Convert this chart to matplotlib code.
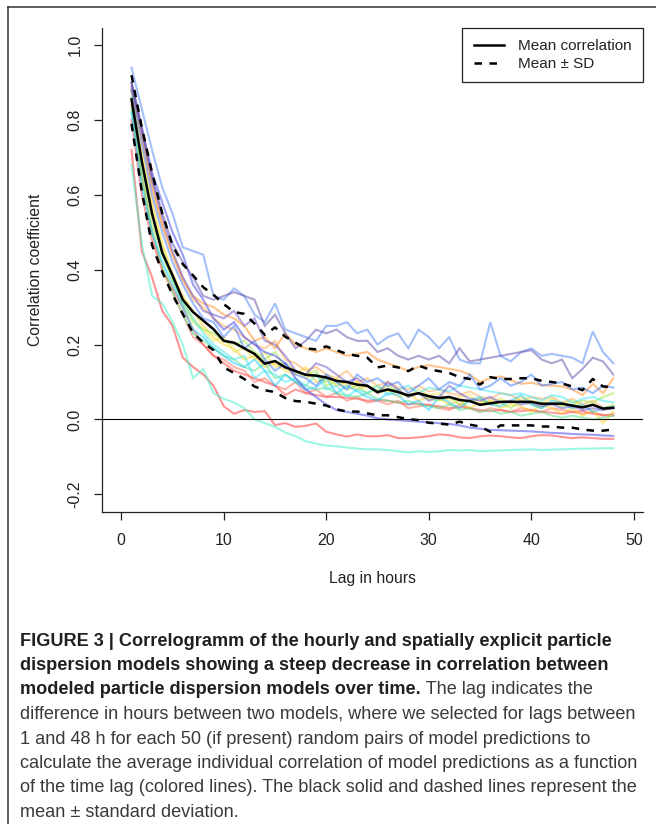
import numpy as np
import matplotlib
matplotlib.use("Agg")
import matplotlib.pyplot as plt
from matplotlib.lines import Line2D

plt.rcParams["font.family"] = ["Liberation Sans", "DejaVu Sans"]
plt.rcParams["axes.unicode_minus"] = False

# ============================================================
# DATA
# ============================================================

lags = list(range(1, 49))

mean_corr = [0.855, 0.69, 0.55, 0.445, 0.385, 0.32, 0.287, 0.264, 0.241, 0.21,
             0.205, 0.19, 0.175, 0.149, 0.156, 0.139, 0.129, 0.119, 0.117, 0.112,
             0.103, 0.10, 0.093, 0.09, 0.073, 0.08, 0.073, 0.064, 0.07, 0.062,
             0.057, 0.06, 0.052, 0.049, 0.039, 0.043, 0.047, 0.047, 0.047, 0.047,
             0.042, 0.042, 0.042, 0.037, 0.032, 0.039, 0.029, 0.031]

mean_plus_sd = [0.92, 0.78, 0.66, 0.55, 0.465, 0.415, 0.385, 0.353, 0.333, 0.308,
                0.287, 0.282, 0.256, 0.226, 0.246, 0.221, 0.205, 0.19, 0.187, 0.195,
                0.185, 0.175, 0.17, 0.165, 0.139, 0.144, 0.139, 0.129, 0.144, 0.134,
                0.129, 0.124, 0.113, 0.108, 0.093, 0.113, 0.108, 0.108, 0.11, 0.11,
                0.103, 0.10, 0.096, 0.088, 0.078, 0.108, 0.088, 0.086]

mean_minus_sd = [0.79, 0.61, 0.466, 0.394, 0.333, 0.282, 0.231, 0.205, 0.185, 0.139,
                 0.124, 0.108, 0.088, 0.078, 0.073, 0.057, 0.049, 0.047, 0.042, 0.037,
                 0.027, 0.021, 0.021, 0.016, 0.011, 0.011, 0.006, 0.001, -0.002, -0.009,
                 -0.011, -0.014, -0.006, -0.014, -0.019, -0.033, -0.016, -0.016, -0.016, -0.016,
                 -0.019, -0.019, -0.022, -0.022, -0.027, -0.03, -0.03, -0.027]

# individual model pairs (colored lines)
blue_top = [0.94, 0.83, 0.72, 0.62, 0.55, 0.46, 0.45, 0.44, 0.33, 0.32,
            0.35, 0.33, 0.28, 0.26, 0.31, 0.24, 0.23, 0.22, 0.21, 0.25,
            0.25, 0.26, 0.23, 0.24, 0.20, 0.22, 0.23, 0.19, 0.24, 0.22,
            0.19, 0.22, 0.16, 0.15, 0.15, 0.26, 0.17, 0.155, 0.18, 0.19,
            0.17, 0.175, 0.17, 0.165, 0.15, 0.235, 0.18, 0.15]
purple_top = [0.90, 0.78, 0.65, 0.55, 0.47, 0.42, 0.38, 0.33, 0.32, 0.33,
              0.34, 0.33, 0.32, 0.25, 0.28, 0.23, 0.19, 0.21, 0.24, 0.23,
              0.24, 0.22, 0.21, 0.21, 0.18, 0.19, 0.17, 0.16, 0.17, 0.16,
              0.17, 0.15, 0.19, 0.155, 0.16, 0.165, 0.17, 0.175, 0.18, 0.185,
              0.16, 0.15, 0.16, 0.11, 0.135, 0.165, 0.155, 0.12]
aqua_low = [0.68, 0.47, 0.33, 0.31, 0.26, 0.20, 0.11, 0.135, 0.07, 0.055,
            0.045, 0.03, 0.0, -0.01, -0.02, -0.035, -0.045, -0.058, -0.065, -0.07,
            -0.072, -0.075, -0.078, -0.08, -0.08, -0.082, -0.085, -0.088, -0.085, -0.087,
            -0.085, -0.082, -0.083, -0.082, -0.085, -0.084, -0.083, -0.082, -0.081, -0.08,
            -0.082, -0.081, -0.08, -0.079, -0.078, -0.078, -0.077, -0.077]
red_low = [0.72, 0.45, 0.38, 0.29, 0.25, 0.165, 0.14, 0.12, 0.09, 0.035,
           0.015, 0.025, 0.02, 0.022, -0.015, -0.01, -0.02, -0.017, -0.011, -0.033,
           -0.04, -0.046, -0.04, -0.045, -0.045, -0.042, -0.05, -0.05, -0.048, -0.045,
           -0.04, -0.042, -0.048, -0.05, -0.045, -0.043, -0.045, -0.048, -0.05, -0.045,
           -0.042, -0.043, -0.047, -0.05, -0.048, -0.05, -0.052, -0.052]
blue_low = [0.90, 0.78, 0.66, 0.58, 0.50, 0.44, 0.36, 0.32, 0.27, 0.24,
            0.26, 0.22, 0.20, 0.18, 0.17, 0.15, 0.11, 0.08, 0.06, 0.04,
            0.025, 0.02, 0.015, 0.01, 0.003, 0.0, -0.002, -0.004, -0.006, -0.008,
            -0.01, -0.012, -0.016, -0.022, -0.025, -0.028, -0.029, -0.03, -0.031, -0.032,
            -0.034, -0.036, -0.037, -0.039, -0.04, -0.041, -0.043, -0.044]
red_mid = [0.80, 0.60, 0.48, 0.40, 0.35, 0.30, 0.24, 0.20, 0.17, 0.15,
           0.13, 0.12, 0.11, 0.10, 0.09, 0.065, 0.08, 0.07, 0.065, 0.06,
           0.06, 0.058, 0.055, 0.05, 0.052, 0.05, 0.045, 0.04, 0.042, 0.038,
           0.035, 0.03, 0.033, 0.03, 0.025, 0.022, 0.025, 0.02, 0.022, 0.025,
           0.02, 0.018, 0.015, 0.02, 0.022, 0.015, 0.012, 0.01]
orange_up = [0.88, 0.76, 0.62, 0.52, 0.44, 0.37, 0.33, 0.31, 0.30, 0.28,
             0.27, 0.25, 0.21, 0.22, 0.19, 0.23, 0.20, 0.19, 0.18, 0.19,
             0.18, 0.17, 0.175, 0.18, 0.16, 0.15, 0.14, 0.13, 0.14, 0.145,
             0.14, 0.135, 0.13, 0.12, 0.10, 0.11, 0.115, 0.105, 0.095, 0.098,
             0.092, 0.09, 0.088, 0.08, 0.065, 0.095, 0.07, 0.11]
cyan_1 = [0.82, 0.62, 0.50, 0.42, 0.36, 0.30, 0.24, 0.22, 0.19, 0.17,
          0.15, 0.14, 0.16, 0.13, 0.09, 0.12, 0.10, 0.08, 0.085, 0.11,
          0.07, 0.09, 0.075, 0.06, 0.05, 0.07, 0.065, 0.04, 0.05, 0.025,
          0.06, 0.045, 0.03, 0.05, 0.06, 0.04, 0.035, 0.05, 0.065, 0.04,
          0.03, 0.05, 0.045, 0.03, 0.04, 0.02, 0.03, 0.035]
cyan_2 = [0.86, 0.68, 0.55, 0.45, 0.38, 0.31, 0.27, 0.23, 0.20, 0.18,
          0.16, 0.17, 0.11, 0.13, 0.12, 0.10, 0.11, 0.09, 0.12, 0.08,
          0.09, 0.06, 0.08, 0.07, 0.09, 0.065, 0.08, 0.09, 0.07, 0.085,
          0.08, 0.075, 0.09, 0.085, 0.08, 0.075, 0.07, 0.065, 0.07, 0.06,
          0.05, 0.065, 0.06, 0.045, 0.055, 0.06, 0.05, 0.045]
yellow_1 = [0.88, 0.72, 0.58, 0.47, 0.39, 0.33, 0.29, 0.25, 0.22, 0.20,
            0.19, 0.16, 0.17, 0.14, 0.15, 0.13, 0.12, 0.14, 0.10, 0.11,
            0.09, 0.10, 0.08, 0.09, 0.07, 0.08, 0.06, 0.07, 0.05, 0.06,
            0.055, 0.04, 0.05, 0.03, 0.045, 0.05, 0.03, 0.04, 0.035, 0.02,
            0.04, 0.03, 0.015, 0.03, 0.01, 0.025, -0.01, 0.02]
yellow_2 = [0.86, 0.70, 0.56, 0.46, 0.38, 0.32, 0.27, 0.24, 0.21, 0.22,
            0.18, 0.19, 0.16, 0.18, 0.14, 0.15, 0.13, 0.11, 0.12, 0.10,
            0.11, 0.09, 0.10, 0.085, 0.09, 0.075, 0.08, 0.06, 0.08, 0.065,
            0.07, 0.05, 0.06, 0.065, 0.04, 0.05, 0.055, 0.045, 0.06, 0.05,
            0.045, 0.055, 0.04, 0.05, 0.035, 0.04, 0.03, 0.04]
green_1 = [0.85, 0.66, 0.52, 0.44, 0.37, 0.31, 0.26, 0.24, 0.23, 0.21,
           0.20, 0.21, 0.18, 0.16, 0.18, 0.14, 0.13, 0.12, 0.13, 0.09,
           0.10, 0.08, 0.09, 0.07, 0.08, 0.09, 0.075, 0.06, 0.07, 0.055,
           0.05, 0.06, 0.04, 0.05, 0.055, 0.04, 0.045, 0.03, 0.05, 0.04,
           0.03, 0.045, 0.035, 0.04, 0.05, 0.045, 0.06, 0.07]
green_2 = [0.83, 0.64, 0.50, 0.41, 0.34, 0.28, 0.23, 0.21, 0.19, 0.17,
           0.16, 0.14, 0.13, 0.15, 0.11, 0.12, 0.10, 0.09, 0.08, 0.085,
           0.07, 0.065, 0.06, 0.07, 0.055, 0.05, 0.045, 0.05, 0.04, 0.035,
           0.03, 0.04, 0.025, 0.03, 0.02, 0.025, 0.015, 0.02, 0.01, 0.015,
           0.02, 0.01, 0.005, 0.01, 0.005, 0.0, 0.005, 0.01]
orange_2 = [0.90, 0.76, 0.63, 0.52, 0.44, 0.38, 0.32, 0.30, 0.27, 0.25,
            0.24, 0.22, 0.20, 0.19, 0.21, 0.16, 0.15, 0.13, 0.14, 0.12,
            0.11, 0.13, 0.10, 0.11, 0.09, 0.10, 0.085, 0.08, 0.09, 0.075,
            0.08, 0.07, 0.065, 0.075, 0.06, 0.055, 0.07, 0.065, 0.05, 0.06,
            0.055, 0.06, 0.045, 0.055, 0.04, 0.05, 0.03, 0.035]
salmon = [0.84, 0.65, 0.50, 0.40, 0.34, 0.28, 0.22, 0.20, 0.17, 0.16,
          0.14, 0.13, 0.10, 0.11, 0.09, 0.08, 0.10, 0.07, 0.08, 0.06,
          0.07, 0.05, 0.06, 0.045, 0.05, 0.04, 0.05, 0.03, 0.035, 0.04,
          0.03, 0.025, 0.04, 0.03, 0.02, 0.03, 0.025, 0.02, 0.03, 0.025,
          0.02, 0.03, 0.025, 0.02, 0.015, 0.02, 0.01, 0.015]
blue_2 = [0.88, 0.74, 0.60, 0.50, 0.42, 0.36, 0.31, 0.27, 0.26, 0.22,
          0.25, 0.19, 0.21, 0.16, 0.13, 0.15, 0.12, 0.11, 0.09, 0.12,
          0.10, 0.08, 0.12, 0.10, 0.11, 0.09, 0.10, 0.07, 0.09, 0.11,
          0.08, 0.10, 0.09, 0.12, 0.08, 0.09, 0.11, 0.09, 0.10, 0.12,
          0.09, 0.095, 0.10, 0.08, 0.085, 0.07, 0.09, 0.085]
purple_2 = [0.89, 0.77, 0.64, 0.54, 0.45, 0.38, 0.33, 0.29, 0.28, 0.27,
            0.29, 0.25, 0.27, 0.21, 0.20, 0.17, 0.13, 0.12, 0.15, 0.14,
            0.12, 0.10, 0.11, 0.09, 0.07, 0.10, 0.08, 0.06, 0.07, 0.05,
            0.06, 0.09, 0.07, 0.055, 0.05, 0.06, 0.045, 0.05, 0.04, 0.045,
            0.035, 0.04, 0.03, 0.035, 0.025, 0.03, 0.025, 0.03]

pair_lines = [red_low, red_mid, salmon, orange_up, orange_2, yellow_1, yellow_2,
              green_1, green_2, aqua_low, cyan_1, cyan_2, blue_2, blue_top,
              blue_low, purple_2, purple_top]
pair_colors = ["#FF2A2A", "#FF3B3B", "#FF6A5A", "#FF8C1A", "#FFA64D", "#FFD21A", "#EEE040",
               "#9BE63C", "#55E08A", "#3CF0C8", "#1AC8FF", "#3CE6F0", "#3C78FF", "#4A82F5",
               "#3C3CE6", "#6A50C8", "#5A4AA8"]

x_ticks = [0, 10, 20, 30, 40, 50]
y_ticks = [-0.2, 0.0, 0.2, 0.4, 0.6, 0.8, 1.0]

caption_lines = [
    ("FIGURE 3 | Correlogramm of the hourly and spatially explicit particle", ""),
    ("dispersion models showing a steep decrease in correlation between", ""),
    ("modeled particle dispersion models over time.", " The lag indicates the"),
    ("", "difference in hours between two models, where we selected for lags between"),
    ("", "1 and 48 h for each 50 (if present) random pairs of model predictions to"),
    ("", "calculate the average individual correlation of model predictions as a function"),
    ("", "of the time lag (colored lines). The black solid and dashed lines represent the"),
    ("", "mean \u00b1 standard deviation."),
]

# ============================================================
# FIGURE
# ============================================================

W, H = 656, 824
fig = plt.figure(figsize=(W / 100, H / 100), dpi=100)

ax_l, ax_r, ax_t, ax_b = 101.7, 643.0, 27.6, 512.1
ax = fig.add_axes([ax_l / W, 1 - ax_b / H, (ax_r - ax_l) / W, (ax_b - ax_t) / H])

for vals, col in zip(pair_lines, pair_colors):
    ax.plot(lags, vals, color=col, alpha=0.5, lw=1.5, solid_joinstyle="miter")

ax.axhline(0, color="black", lw=0.8)

mean_line, = ax.plot(lags, mean_corr, color="black", lw=1.8, label="Mean correlation")
sd_line, = ax.plot(lags, mean_plus_sd, color="black", lw=1.8, dashes=(3, 3),
                   label="Mean \u00b1 SD")
ax.plot(lags, mean_minus_sd, color="black", lw=1.8, dashes=(3, 3))

ax.set_xlim(-1.91, 50.9)
ax.set_ylim(-0.2477, 1.047)

for side in ["top", "right"]:
    ax.spines[side].set_visible(False)
for side in ["left", "bottom"]:
    ax.spines[side].set_linewidth(0.9)
    ax.spines[side].set_color("#222222")

ax.set_xticks(x_ticks)
ax.set_yticks(y_ticks)
ax.set_yticklabels([f"{v:.1f}" for v in y_ticks], rotation=90, va="center")
ax.tick_params(axis="both", length=6, width=0.9, color="#222222", labelsize=11.5,
               labelcolor="#222222")
ax.tick_params(axis="x", pad=9)
ax.tick_params(axis="y", pad=8)

fig.text(35.6 / W, 1 - 270 / H, "Correlation coefficient", rotation=90,
         ha="center", va="center", fontsize=11.3, color="#222222")
fig.text(372.3 / W, 1 - 578 / H, "Lag in hours", ha="center", va="center",
         fontsize=11.3, color="#222222")

leg = ax.legend(handles=[mean_line, sd_line], loc="upper right", bbox_to_anchor=(1, 1),
                borderaxespad=0, fancybox=False, edgecolor="#222222", framealpha=1,
                fontsize=11, handlelength=2.0, handletextpad=0.9, labelspacing=0.25,
                borderpad=0.75)
leg.get_frame().set_linewidth(0.9)
for t in leg.get_texts():
    t.set_color("#222222")

# outer frame (top and left edges visible in the crop)
fig.add_artist(Line2D([7.7 / W, 1.02], [1 - 6.7 / H, 1 - 6.7 / H], color="#333333",
                      lw=1.1, transform=fig.transFigure))
fig.add_artist(Line2D([7.7 / W, 7.7 / W], [1 - 6.7 / H, -0.02], color="#333333",
                      lw=1.1, transform=fig.transFigure))

# caption
renderer = fig.canvas.get_renderer()
cap_x = 20 / W
y0, dy = 641, 24.5
for i, (bold_part, reg_part) in enumerate(caption_lines):
    y = 1 - (y0 + i * dy) / H
    x = cap_x
    if bold_part:
        tb = fig.text(x, y, bold_part, fontsize=13.1, fontweight="bold",
                      color="#231f20", ha="left", va="center")
        bb = tb.get_window_extent(renderer=renderer)
        x = bb.x1 / W
    if reg_part:
        fig.text(x, y, reg_part, fontsize=13.1, color="#3a3a3a", ha="left", va="center")

fig.savefig("out.png", dpi=100)
